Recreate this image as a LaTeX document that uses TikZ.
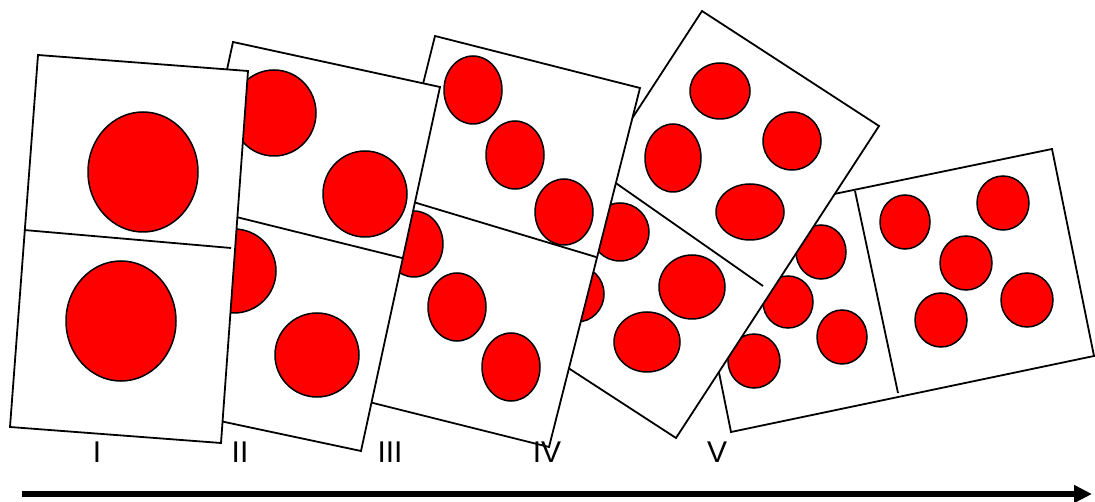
\documentclass[tikz,border=0pt]{standalone}
\usepackage{fontspec}
\setmainfont{Liberation Sans}
\usepackage{tikz}
\usetikzlibrary{arrows.meta}

\begin{document}
\begin{tikzpicture}[
      x=1pt, y=-1pt,
      domino_face/.style={draw=black, fill=white, line width=1.8pt, line join=miter},
      domino_bar/.style={draw=black, line width=1.8pt},
      pip_dot/.style={draw=black, fill=red, line width=1.5pt},
      num_label/.style={anchor=base, inner sep=0pt, font=\fontsize{30}{36}\selectfont},
      time_arrow/.style={-{Triangle[length=18pt, width=17pt]}, line width=6.5pt}
    ]
      \useasboundingbox (0,0) rectangle (1095,502);

      % V (five - five), at the back
      \draw[domino_face] (689,224) -- (1052,149) -- (1094,356) -- (731,432) -- cycle;
      \draw[domino_bar] (855,191) -- (898,393);
      \draw[pip_dot] (722,268) ellipse [x radius=25pt, y radius=27pt];
      \draw[pip_dot] (821,252) ellipse [x radius=25pt, y radius=27pt];
      \draw[pip_dot] (788,302) ellipse [x radius=25pt, y radius=26pt];
      \draw[pip_dot] (754,361) ellipse [x radius=26pt, y radius=27pt];
      \draw[pip_dot] (842,337) ellipse [x radius=25pt, y radius=27pt];
      \draw[pip_dot] (905,222) ellipse [x radius=25pt, y radius=27pt];
      \draw[pip_dot] (1003,203) ellipse [x radius=26pt, y radius=27pt];
      \draw[pip_dot] (966,263) ellipse [x radius=26pt, y radius=27pt];
      \draw[pip_dot] (941,320) ellipse [x radius=26pt, y radius=27pt];
      \draw[pip_dot] (1027,300) ellipse [x radius=26pt, y radius=27pt];

      % IV (four - four)
      \draw[domino_face] (702,11) -- (879,126) -- (676,438) -- (499,323) -- cycle;
      \draw[domino_bar] (600,172) -- (763,286);
      \draw[pip_dot] (720,91) ellipse [x radius=30pt, y radius=28pt];
      \draw[pip_dot] (792,141) ellipse [x radius=29pt, y radius=29pt];
      \draw[pip_dot] (673,158) ellipse [x radius=28pt, y radius=34pt];
      \draw[pip_dot] (750,212) ellipse [x radius=34pt, y radius=28pt];
      \draw[pip_dot] (620,232) ellipse [x radius=29pt, y radius=29pt];
      \draw[pip_dot] (692,287) ellipse [x radius=33pt, y radius=32pt];
      \draw[pip_dot] (647,342) ellipse [x radius=33pt, y radius=30pt];
      \draw[pip_dot] (577,294) ellipse [x radius=27pt, y radius=28pt];

      % III (three - three)
      \draw[domino_face] (435,36) -- (640,88) -- (549,447) -- (345,396) -- cycle;
      \draw[domino_bar] (400,198) -- (596,257);
      \draw[pip_dot] (473,90) ellipse [x radius=29pt, y radius=34pt];
      \draw[pip_dot] (515,155) ellipse [x radius=29pt, y radius=34pt];
      \draw[pip_dot] (564,212) ellipse [x radius=29pt, y radius=33pt];
      \draw[pip_dot] (414,244) ellipse [x radius=29pt, y radius=33pt];
      \draw[pip_dot] (457,307) ellipse [x radius=29pt, y radius=34pt];
      \draw[pip_dot] (511,367) ellipse [x radius=29pt, y radius=34pt];

      % II (two - two)
      \draw[domino_face] (233,42) -- (440,87) -- (361,451) -- (154,407) -- cycle;
      \draw[domino_bar] (200,208) -- (402,258);
      \draw[pip_dot] (274,113) ellipse [x radius=42pt, y radius=43pt];
      \draw[pip_dot] (365,194) ellipse [x radius=42pt, y radius=43pt];
      \draw[pip_dot] (234,271) ellipse [x radius=42pt, y radius=42pt];
      \draw[pip_dot] (317,355) ellipse [x radius=42pt, y radius=42pt];

      % I (one - one), in front
      \draw[domino_face] (38,55) -- (248,71) -- (221,443) -- (10,427) -- cycle;
      \draw[domino_bar] (24,230) -- (231,248);
      \draw[pip_dot] (143,172) ellipse [x radius=55pt, y radius=60pt];
      \draw[pip_dot] (121,321) ellipse [x radius=55pt, y radius=60pt];

      % labels and time arrow
      \node[num_label] (lab_one) at (97,462) {I};
      \node[num_label] (lab_two) at (240,462) {II};
      \node[num_label] (lab_three) at (390,462) {III};
      \node[num_label] (lab_four) at (547,462) {IV};
      \node[num_label] (lab_five) at (717,462) {V};

      \coordinate (t_start) at (22,494);
      \coordinate (t_end) at (1092,494);
      \draw[time_arrow] (t_start) -- (t_end);
    \end{tikzpicture}
\end{document}
